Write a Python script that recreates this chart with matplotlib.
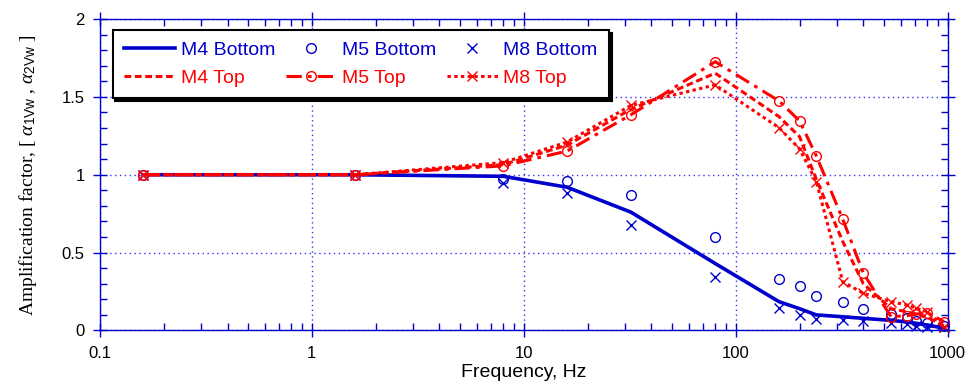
import matplotlib
matplotlib.use("Agg")
import matplotlib.pyplot as plt
import matplotlib.ticker as ticker

# frequencies, Hz
freq = [0.16, 1.6, 8, 16, 32, 80, 160, 200, 240, 320, 400, 540, 640, 710, 800, 960]

m4_bottom = [1.0, 1.0, 0.99, 0.92, 0.76, 0.43, 0.185, 0.14, 0.10, 0.088, 0.078, 0.065, 0.055, 0.046, 0.035, 0.015]
m5_bottom = [1.0, 1.0, 0.97, 0.96, 0.87, 0.60, 0.33, 0.284, 0.222, 0.181, 0.138, 0.106, 0.082, 0.061, 0.046, 0.03]
m8_bottom = [1.0, 1.0, 0.95, 0.88, 0.675, 0.345, 0.143, 0.10, 0.072, 0.067, 0.061, 0.046, 0.04, 0.029, 0.024, 0.02]

m4_top = [1.0, 1.0, 1.065, 1.19, 1.42, 1.652, 1.373, 1.245, 0.97, 0.57, 0.30, 0.14, 0.12, 0.105, 0.085, 0.03]
m5_top = [1.0, 1.0, 1.057, 1.152, 1.385, 1.726, 1.474, 1.346, 1.121, 0.714, 0.367, 0.089, 0.095, 0.105, 0.114, 0.057]
m8_top = [1.0, 1.0, 1.078, 1.21, 1.445, 1.577, 1.302, 1.166, 0.956, 0.313, 0.239, 0.185, 0.164, 0.143, 0.121, 0.024]

BLUE = '#0000CC'
RED = '#FF0000'

plt.rcParams['font.family'] = ['Liberation Sans', 'DejaVu Sans']
plt.rcParams['mathtext.fontset'] = 'custom'
plt.rcParams['mathtext.rm'] = 'Liberation Serif'
plt.rcParams['mathtext.it'] = 'Liberation Serif:italic'
plt.rcParams['mathtext.sf'] = 'Liberation Sans'

fig = plt.figure(figsize=(9.7, 3.85), dpi=100)
ax = fig.add_axes([0.103, 0.1416, 0.874, 0.809])

h_m4b, = ax.plot(freq, m4_bottom, color=BLUE, lw=2.6, label='M4 Bottom')
h_m5b, = ax.plot(freq, m5_bottom, ls='none', marker='o', ms=7, mfc='none', mec=BLUE, mew=1.0,
                 label='M5 Bottom', clip_on=False)
h_m8b, = ax.plot(freq, m8_bottom, ls='none', marker='x', ms=7, mec=BLUE, mew=1.0,
                 label='M8 Bottom', clip_on=False)

h_m4t, = ax.plot(freq, m4_top, color=RED, lw=2.2, dashes=(2.2, 1.2), label='M4 Top')
h_m5t, = ax.plot(freq, m5_top, color=RED, lw=2.2, dashes=(5, 2, 1.2, 2), marker='o', ms=7,
                 mfc='none', mec=RED, mew=1.0, label='M5 Top', clip_on=False)
h_m8t, = ax.plot(freq, m8_top, color=RED, lw=2.2, dashes=(1.1, 1.1), marker='x', ms=7,
                 mec=RED, mew=1.0, label='M8 Top', clip_on=False)

ax.set_xscale('log')
ax.set_xlim(0.1, 1000)
ax.set_ylim(0, 2)

ax.xaxis.set_major_formatter(ticker.FuncFormatter(lambda v, p: '%g' % v))
ax.xaxis.set_minor_formatter(ticker.NullFormatter())
ax.yaxis.set_major_locator(ticker.MultipleLocator(0.5))
ax.yaxis.set_minor_locator(ticker.MultipleLocator(0.1))
ax.yaxis.set_major_formatter(ticker.FuncFormatter(lambda v, p: '%g' % v))

for s in ax.spines.values():
    s.set_color(BLUE)
    s.set_linewidth(1.0)

ax.tick_params(which='major', direction='inout', length=10, width=1.0, color=BLUE,
               top=True, right=True, labelsize=12, labelcolor='black', pad=6)
ax.tick_params(which='minor', direction='in', length=5, width=1.0, color=BLUE,
               top=True, right=True)

ax.grid(which='major', color='#3333FF', ls=(0, (1, 2.5)), lw=1.0)

ax.set_xlabel('Frequency, Hz', fontsize=14, labelpad=2)
ax.set_ylabel(r'Amplification factor, [ $\alpha_{\mathsf{1Vw}}$ , $\alpha_{\mathsf{2Vw}}$ ]',
              fontsize=14, family='Liberation Serif', labelpad=16)

handles = [h_m4b, h_m4t, h_m5b, h_m5t, h_m8b, h_m8t]
leg = ax.legend(handles, [h.get_label() for h in handles], ncol=3, loc='upper left',
                bbox_to_anchor=(0.015, 0.965), borderaxespad=0, fontsize=14,
                handlelength=2.6, handletextpad=0.3, columnspacing=0.55,
                labelspacing=0.5, borderpad=0.6, fancybox=False, framealpha=1,
                edgecolor='black',
                shadow={'facecolor': 'black', 'edgecolor': 'black', 'alpha': 1})
leg.get_frame().set_linewidth(1.5)
for txt, h in zip(leg.get_texts(), handles):
    txt.set_color(BLUE if 'Bottom' in h.get_label() else RED)

fig.savefig('out.png', dpi=100)
